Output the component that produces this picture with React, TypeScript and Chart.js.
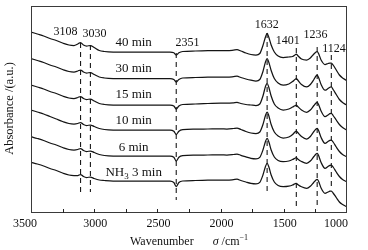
import React, { useEffect, useRef } from "react";
import { Chart, registerables } from "chart.js";
Chart.register(...registerables);

const FONT = '"Liberation Serif", "Times New Roman", serif';

// Wavenumber grid (cm^-1)
const wavenumbers = [3500, 3450, 3400, 3350, 3300, 3250, 3200, 3160, 3130, 3108, 3085, 3060, 3030, 3000, 2960, 2920, 2850, 2700, 2500, 2400, 2370, 2351, 2330, 2300, 2200, 2100, 2000, 1950, 1900, 1870, 1840, 1800, 1760, 1720, 1690, 1665, 1645, 1632, 1618, 1600, 1575, 1545, 1505, 1460, 1430, 1412, 1401, 1390, 1360, 1319, 1290, 1262, 1245, 1236, 1225, 1205, 1174, 1150, 1135, 1124, 1110, 1085, 1060, 1035, 1010, 1000];

// Absorbance (offset, a.u.) for each exposure time
const abs40 = [181, 179, 177, 174.5, 172.5, 170, 168, 167.5, 169, 170.5, 168, 167, 167.5, 165.5, 162.5, 161.5, 161, 161, 161, 161, 160.2, 158, 160.2, 161.5, 162, 162.3, 162.5, 162.3, 162.8, 163.3, 162, 160, 158.5, 158, 159.5, 167.5, 176, 179.7, 175.5, 168, 161, 157, 155.5, 156, 156.5, 158, 159, 157.5, 154, 153, 155, 159, 161, 161.5, 159.5, 153, 148.5, 149.5, 150, 150, 148, 143, 138, 135, 133, 132];
const abs30 = [154.5, 152.5, 150.5, 148, 146, 143.5, 141.5, 141, 142, 143, 141, 140, 140.5, 138.5, 136, 135, 134.5, 134.5, 134.5, 134.5, 133.5, 131, 133.5, 135, 135.5, 135.8, 136, 135.8, 136.3, 136.8, 135.5, 134, 132.8, 132, 133.5, 141.5, 151, 154.5, 150.5, 142.5, 134.5, 130, 127.8, 129, 131.5, 133.5, 134.5, 133, 128.5, 126.1, 128.5, 133.5, 137, 137.8, 135.5, 128.5, 122.8, 124.5, 125.8, 126.1, 123.5, 118.5, 113.5, 110.5, 108.5, 107.8];
const abs15 = [128, 126, 124, 121.5, 119.5, 117, 115, 114.5, 115.5, 116.5, 114.5, 113.5, 114, 112, 109.5, 108.5, 108, 108, 108, 108, 107, 104, 107, 108.5, 109, 109.5, 110, 109.8, 110.2, 110.7, 109.5, 108.5, 108, 107.5, 109, 117, 126.5, 129.7, 125.5, 117, 109, 105, 103, 104, 106, 107.2, 108, 106.5, 103, 100.7, 103, 107.5, 110, 110.7, 108.5, 102, 96.3, 98, 99.4, 99.7, 97.5, 93, 88.5, 85.5, 83.5, 83];
const abs10 = [103, 101, 99, 96.5, 94, 91.5, 89.5, 89, 89.5, 90.5, 88.5, 87.5, 88, 86.5, 84.5, 83.5, 83, 83, 83, 83, 81.8, 78.5, 81.8, 83.3, 83.8, 84, 84.2, 84, 84.5, 85, 83.5, 81.5, 80, 79.5, 81, 88.5, 97.5, 101, 97, 88.5, 81, 77, 75, 76, 78.5, 81, 82, 80.5, 76.5, 74, 76.5, 81.5, 84, 84.7, 82.5, 75.5, 69.7, 71.5, 72.7, 73, 71, 66, 61.5, 58.5, 56.8, 56.3];
const abs6 = [76.3, 74.5, 72.5, 70, 68, 65.5, 63.5, 63, 63.5, 64.5, 62.5, 61.5, 62, 60.5, 58.5, 57.5, 57, 57, 57, 57, 55.7, 52, 55.7, 57.3, 57.8, 58, 58.2, 58, 58.5, 59, 57.7, 56.2, 54.7, 54.2, 55.7, 63, 71.5, 74.7, 71, 63, 56, 52.5, 51.3, 52, 53.5, 54.7, 55.3, 54, 51.5, 49.7, 52, 56.5, 59, 59.7, 57.5, 50.5, 44.7, 46.5, 47.7, 48, 46, 41, 36.5, 33.5, 31.8, 31.3];
const abs3 = [50.7, 49, 47, 44.5, 42.5, 40, 38, 37.5, 37.5, 38.5, 36.5, 35.5, 36, 34.5, 33, 32.5, 32, 32, 32, 32, 30.5, 26.5, 30.5, 32, 32.5, 32.8, 33, 32.8, 33.3, 33.8, 32.5, 31, 29.7, 29.2, 30.7, 38, 46.5, 49.7, 46, 38, 31, 27.5, 26.3, 26.8, 28, 29.2, 29.7, 28.5, 26.2, 24.7, 26.8, 30.8, 33, 33.7, 31.7, 25, 19.7, 21, 21.8, 22, 20, 15.5, 11, 8.5, 6.8, 6.3];

// Series labels
const seriesLabels = ["40 min", "30 min", "15 min", "10 min", "6 min", "NH3 3 min"];
const seriesLabelX = 2688;
const seriesLabelY = [170, 144, 118.5, 92.5, 65, 40.3];

// Peak marker lines and labels
const markerWavenumbers = [3108, 3030, 2351, 1632, 1401, 1236, 1124];
const markerTop = [170, 168, 160, 180, 165, 166, 158];
const markerBottom = [21, 21, 13, 20, 5, 5, 23];
const peakLabels = ["3108", "3030", "2351", "1632", "1401", "1236", "1124"];
const peakLabelX = [3227, 2997, 2262, 1634, 1468, 1250, 1103];
const peakLabelY = [181, 179.5, 170.5, 188, 172, 178, 164];

// Axis ticks
const majorTicks = [3500, 3000, 2500, 2000, 1500, 1000];
const minorTicks = [3250, 2750, 2250, 1750, 1250];

export default function App() {
  const ref = useRef<HTMLCanvasElement>(null);
  useEffect(() => {
    document.body.style.margin = "0";
    const canvas = ref.current!;
    const seriesList = [abs40, abs30, abs15, abs10, abs6, abs3];
    const datasets: any[] = seriesList.map((s) => ({
      data: wavenumbers.map((w, i) => ({ x: w, y: s[i] })),
      borderColor: "#141414",
      borderWidth: 1.25,
      pointRadius: 0,
      cubicInterpolationMode: "monotone",
      fill: false,
    }));
    markerWavenumbers.forEach((w, i) => {
      datasets.push({
        data: [
          { x: w, y: markerTop[i] },
          { x: w, y: markerBottom[i] },
        ],
        borderColor: "#1a1a1a",
        borderWidth: 1.1,
        borderDash: [5, 4],
        pointRadius: 0,
        fill: false,
      });
    });

    const decor = {
      id: "decor",
      afterDraw(chart: any) {
        const c = chart.ctx as CanvasRenderingContext2D;
        const { left, right, top, bottom } = chart.chartArea;
        const xs = chart.scales.x;
        const ys = chart.scales.y;
        c.save();
        // frame
        c.strokeStyle = "#3a3a3a";
        c.lineWidth = 1;
        c.strokeRect(left + 0.5, top + 0.5, right - left - 1, bottom - top - 1);
        // inward ticks
        c.strokeStyle = "#222";
        [...majorTicks, ...minorTicks].forEach((v) => {
          const px = Math.round(xs.getPixelForValue(v)) + 0.5;
          if (px <= left + 1 || px >= right - 1) return;
          c.beginPath();
          c.moveTo(px, bottom);
          c.lineTo(px, bottom - 4);
          c.stroke();
        });
        // tick labels
        c.fillStyle = "#111";
        c.font = `12px ${FONT}`;
        c.textAlign = "center";
        c.textBaseline = "middle";
        majorTicks.forEach((v, i) => {
          let px = xs.getPixelForValue(v);
          if (i === 0) px -= 6;
          else if (i === majorTicks.length - 1) px -= 11;
          else px += 1;
          c.fillText(String(v), px, bottom + 11);
        });
        // peak labels
        c.font = `12px ${FONT}`;
        peakLabels.forEach((t, i) => {
          c.fillText(t, xs.getPixelForValue(peakLabelX[i]), ys.getPixelForValue(peakLabelY[i]));
        });
        // series labels
        seriesLabels.forEach((t, i) => {
          const cx = xs.getPixelForValue(seriesLabelX);
          const cy = ys.getPixelForValue(seriesLabelY[i]);
          if (t.startsWith("NH3")) {
            c.font = `13px ${FONT}`;
            const a = "NH";
            const b = " 3 min";
            const wa = c.measureText(a).width;
            const wb = c.measureText(b).width;
            c.font = `9px ${FONT}`;
            const ws = c.measureText("3").width;
            const total = wa + ws + wb;
            let x0 = cx - total / 2;
            c.textAlign = "left";
            c.font = `13px ${FONT}`;
            c.fillText(a, x0, cy);
            c.font = `9px ${FONT}`;
            c.fillText("3", x0 + wa, cy + 4);
            c.font = `13px ${FONT}`;
            c.fillText(b, x0 + wa + ws, cy);
            c.textAlign = "center";
          } else {
            c.font = `13px ${FONT}`;
            c.fillText(t, cx, cy);
          }
        });
        // x title
        const ty = 242;
        c.textAlign = "left";
        c.font = `12px ${FONT}`;
        const p1 = "Wavenumber";
        const w1 = c.measureText(p1).width;
        const gap = 19;
        c.font = `italic 12px ${FONT}`;
        const wSig = c.measureText("σ").width;
        c.font = `12px ${FONT}`;
        const p3 = " /cm";
        const w3 = c.measureText(p3).width;
        c.font = `8px ${FONT}`;
        const wSup = c.measureText("−1").width;
        const totalW = w1 + gap + wSig + w3 + wSup;
        let tx = (left + right) / 2 - totalW / 2;
        c.font = `12px ${FONT}`;
        c.fillText(p1, tx, ty);
        tx += w1 + gap;
        c.font = `italic 12px ${FONT}`;
        c.fillText("σ", tx, ty);
        tx += wSig;
        c.font = `12px ${FONT}`;
        c.fillText(p3, tx, ty);
        tx += w3;
        c.font = `8px ${FONT}`;
        c.fillText("−1", tx, ty - 4);
        // y title
        c.translate(10, (top + bottom) / 2 - 1);
        c.rotate(-Math.PI / 2);
        c.textAlign = "center";
        c.font = `12.5px ${FONT}`;
        c.fillText("Absorbance /(a.u.)", 0, 0);
        c.restore();
      },
    };

    const chart = new Chart(canvas, {
      type: "line",
      data: { datasets },
      options: {
        animation: false,
        responsive: false,
        devicePixelRatio: 1,
        events: [],
        layout: { padding: { left: 31, right: 21, top: 6, bottom: 37 } },
        plugins: { legend: { display: false }, tooltip: { enabled: false } },
        scales: {
          x: { type: "linear", reverse: true, min: 1000, max: 3500, display: false },
          y: { type: "linear", min: 0, max: 207, display: false },
        },
      },
      plugins: [decor],
    } as any);
    return () => chart.destroy();
  }, []);
  return (
    <div style={{ width: 368, height: 250, background: "#fff" }}>
      <canvas ref={ref} width={368} height={250} style={{ display: "block" }} />
    </div>
  );
}
